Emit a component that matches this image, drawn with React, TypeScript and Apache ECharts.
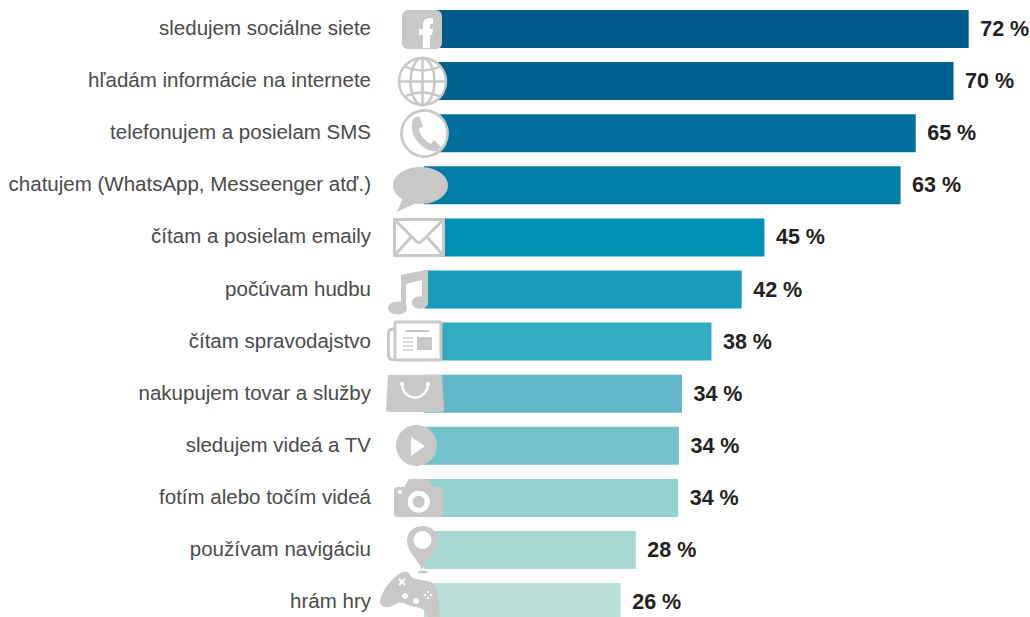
import React, { useEffect, useRef } from "react";
import * as echarts from "echarts";

const categories = [
  "sledujem sociálne siete",
  "hľadám informácie na internete",
  "telefonujem a posielam SMS",
  "chatujem (WhatsApp, Messeenger atď.)",
  "čítam a posielam emaily",
  "počúvam hudbu",
  "čítam spravodajstvo",
  "nakupujem tovar a služby",
  "sledujem videá a TV",
  "fotím alebo točím videá",
  "používam navigáciu",
  "hrám hry",
];
const values = [72, 70, 65, 63, 45, 42, 38, 34.1, 33.7, 33.6, 28, 26];
const colors = [
  "#005a8a", "#00618f", "#006f9b", "#007ca6", "#008fb5", "#179dbb",
  "#30abc1", "#62b8ca", "#73c1cb", "#95d2d2", "#a7d8d4", "#b8e0d8",
];

const GRAY = "#c9c8c7";

const shapes: Record<string, string> = {
  icF: "M423 48 V35 H419 V29 H423 V25 C423 20 426 18 430 18 H433 V24 H431 C430 24 430 25 430 26 V29 H433 L432 35 H430 V48 Z",
  icHandset: "M414 118 L419 116 L423 126 L419 129 C419 134 426 142 431 144 L434 140 L441 147 L437 151 C430 153 420 146 415 138 C411 131 411 122 414 118 Z",
  icChatTail: "M403 198 L397 212 L418 202 Z",
  icMusic: "M401 275 C410 273 419 271 428 270 L428 301 L422 301 L422 280 C416 281 411 283 406 284 L406 308 L401 308 Z",
  icBag: "M388 375 H442 L444 409 C444 411 443 412 441 412 H389 C387 412 386 411 386 409 Z",
  icHandle: "M402 384 C403 402 427 402 428 384",
  icCameraTop: "M394 491 C394 488 396 487 399 487 H404 L409 479 H428 L433 487 H439 C442 487 443 488 443 491 V513 C443 516 442 517 439 517 H398 C395 517 394 516 394 513 Z",
  icPin: "M422 570 C419 560 407 552 407 541 C407 532 414 526 422.5 526 C431 526 438 532 438 541 C438 552 426 560 422 570 Z",
  icPad: "M380 601 C381 594 387 584 395 577 C399 573 404 571 407 572 C410 573 411 577 413 578 C418 580 425 580 431 582 C435 584 437 589 438 596 C439 603 439 610 440 617 L428 617 C426 612 424 609 420 608 C416 607 411 606 408 605 C404 603 401 602 398 603 C394 605 391 607 387 607 C383 607 380 605 380 601 Z",
  icFlap: "M395 220 L416 241 C418 243 420 243 422 241 L443 220",
};
Object.entries(shapes).forEach(([k, d]) =>
  echarts.graphic.registerShape(k, echarts.graphic.extendPath(d, {}) as any)
);

const Z = 20;
const fill = (color: string) => ({ fill: color, stroke: "none" });
const line = (width = 2.5, color = GRAY) => ({ fill: "none", stroke: color, lineWidth: width });

const ln = (x1: number, y1: number, x2: number, y2: number, w = 2.5, c = GRAY) => ({
  type: "line", z: Z, silent: true, shape: { x1, y1, x2, y2 }, style: { stroke: c, lineWidth: w },
});
const circ = (cx: number, cy: number, r: number, style: any) => ({
  type: "circle", z: Z, silent: true, shape: { cx, cy, r }, style,
});
const ell = (cx: number, cy: number, rx: number, ry: number, style: any) => ({
  type: "ellipse", z: Z, silent: true, shape: { cx, cy, rx, ry }, style,
});
const rect = (x: number, y: number, width: number, height: number, r: number, style: any) => ({
  type: "rect", z: Z, silent: true, shape: { x, y, width, height, r }, style,
});
const shp = (type: string, style: any) => ({ type, z: Z, silent: true, style });
const quad = (x1: number, y1: number, cpx1: number, cpy1: number, x2: number, y2: number, w = 2.5, c = GRAY) => ({
  type: "bezierCurve", z: Z, silent: true, shape: { x1, y1, cpx1, cpy1, x2, y2 }, style: line(w, c),
});

const icons: any[] = [
  // facebook
  rect(402, 10, 40, 39, 6, fill(GRAY)),
  shp("icF", fill("#ffffff")),
  // globe
  circ(422.5, 81.5, 23.5, { fill: "#ffffff", stroke: GRAY, lineWidth: 2.5 }),
  ell(422.5, 81.5, 12, 23.5, line()),
  ln(422.5, 58, 422.5, 105),
  ln(399, 81.5, 446, 81.5),
  quad(404, 66, 422.5, 75, 441, 66),
  quad(404, 97, 422.5, 88, 441, 97),
  // phone
  circ(424.5, 133.5, 23, { fill: "#ffffff", stroke: GRAY, lineWidth: 2.8 }),
  shp("icHandset", fill(GRAY)),
  // chat
  ell(420.5, 185.5, 27.5, 18.5, fill(GRAY)),
  shp("icChatTail", fill(GRAY)),
  // envelope
  rect(394.5, 219.5, 49, 36, 0, { fill: "#ffffff", stroke: GRAY, lineWidth: 3 }),
  shp("icFlap", line(3)),
  ln(395, 255, 411, 237, 3),
  ln(443, 255, 427, 237, 3),
  // music
  shp("icMusic", fill(GRAY)),
  ell(397.5, 308, 9.5, 6.5, fill(GRAY)),
  ell(420, 302.5, 8.2, 6.3, fill(GRAY)),
  // newspaper
  rect(388.5, 329, 12, 30.5, 4, { fill: "#ffffff", stroke: GRAY, lineWidth: 3 }),
  rect(395, 322, 46, 38, 1, { fill: "#ffffff", stroke: GRAY, lineWidth: 3 }),
  ln(405, 331, 429, 331, 2),
  rect(417, 337, 15, 13, 0, fill(GRAY)),
  ln(403, 338, 413, 338, 1.5),
  ln(403, 342, 413, 342, 1.5),
  ln(403, 346, 413, 346, 1.5),
  ln(403, 350, 413, 350, 1.5),
  // bag
  shp("icBag", fill(GRAY)),
  shp("icHandle", line(2.4, "#ffffff")),
  circ(402, 384, 2.2, fill("#ffffff")),
  circ(428, 384, 2.2, fill("#ffffff")),
  // play
  circ(416.5, 445.5, 20.5, fill(GRAY)),
  { type: "polygon", z: Z, silent: true, shape: { points: [[411, 437], [425, 446], [411, 456]] }, style: fill("#ffffff") },
  // camera
  shp("icCameraTop", fill(GRAY)),
  circ(418.7, 501.7, 11, fill("#ffffff")),
  circ(418.7, 501.7, 6, fill(GRAY)),
  circ(400, 492, 2, fill("#ffffff")),
  // pin
  shp("icPin", fill(GRAY)),
  circ(422.5, 540, 9, fill("#ffffff")),
  ell(423, 572, 5.5, 1.5, fill(GRAY)),
  // controller
  shp("icPad", fill(GRAY)),
  ln(399, 579, 405, 585, 2, "#ffffff"),
  ln(405, 579, 399, 585, 2, "#ffffff"),
  circ(405, 596, 3, fill("#ffffff")),
  circ(416, 601, 3, fill("#ffffff")),
  circ(428, 592, 1.2, fill("#ffffff")),
  circ(431, 595, 1.2, fill("#ffffff")),
  circ(428, 598, 1.2, fill("#ffffff")),
  circ(425, 595, 1.2, fill("#ffffff")),
];

export default function App() {
  const ref = useRef<HTMLDivElement>(null);
  useEffect(() => {
    const chart = echarts.init(ref.current!, null, { renderer: "svg" });
    chart.setOption({
      animation: false,
      backgroundColor: "#ffffff",
      grid: { left: 424, top: 2.95, width: 605.2, height: 625.2 },
      xAxis: { type: "value", min: 0, max: 80, show: false },
      yAxis: {
        type: "category",
        inverse: true,
        data: categories,
        axisLine: { show: false },
        axisTick: { show: false },
        axisLabel: {
          margin: 53,
          fontFamily: "Liberation Sans",
          fontSize: 20.5,
          color: "#4a4a4a",
          align: "right",
          verticalAlign: "bottom",
          lineHeight: 3,
        },
      },
      series: [
        {
          type: "bar",
          barWidth: 38,
          clip: false,
          data: values.map((v, i) => ({ value: v, itemStyle: { color: colors[i] } })),
          label: {
            show: true,
            position: "right",
            distance: 11.5,
            fontFamily: "Liberation Sans",
            fontWeight: "bold",
            fontSize: 21.5,
            color: "#231f20",
            formatter: (p: any) => `${Math.round(p.value)} %`,
          },
        },
      ],
      graphic: { elements: icons },
    });
    return () => chart.dispose();
  }, []);
  return (
    <div style={{ position: "absolute", left: 0, top: 0, width: 1030, height: 617, overflow: "hidden" }}>
      <div ref={ref} style={{ width: 1030, height: 660 }} />
    </div>
  );
}
